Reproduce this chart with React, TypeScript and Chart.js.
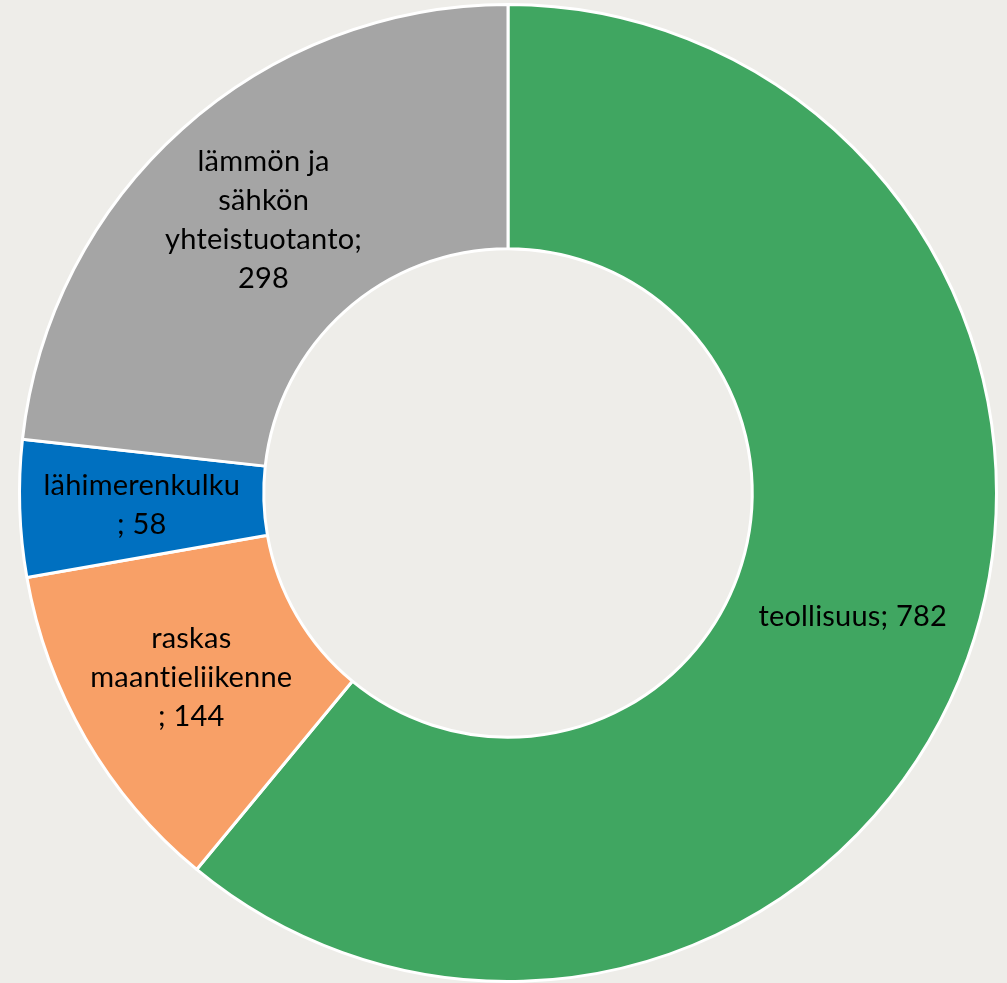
import React, { useEffect, useRef } from "react";
import { Chart, registerables } from "chart.js";

Chart.register(...registerables);

const categories = [
  "teollisuus",
  "raskas maantieliikenne",
  "lähimerenkulku",
  "lämmön ja sähkön yhteistuotanto",
];
const values = [782, 144, 58, 298];
const labelLines = [
  ["teollisuus; 782"],
  ["raskas", "maantieliikenne", "; 144"],
  ["lähimerenkulku", "; 58"],
  ["lämmön ja", "sähkön", "yhteistuotanto;", "298"],
];
const colors = ["#40A661", "#F8A067", "#0070C0", "#A5A5A5"];

const labelPlugin = {
  id: "sliceLabels",
  afterDatasetsDraw(chart: any) {
    const ctx = chart.ctx;
    const meta = chart.getDatasetMeta(0);
    ctx.save();
    ctx.fillStyle = "#000000";
    ctx.font = "29px Lato";
    (ctx as any).letterSpacing = "0.2px";
    ctx.textAlign = "center";
    ctx.textBaseline = "middle";
    const lh = 39;
    meta.data.forEach((arc: any, i: number) => {
      const p = arc.tooltipPosition();
      const lines = labelLines[i];
      const y0 = p.y - ((lines.length - 1) * lh) / 2;
      lines.forEach((l, j) => ctx.fillText(l, p.x, y0 + j * lh));
    });
    ctx.restore();
  },
};

export default function App() {
  const ref = useRef<HTMLCanvasElement>(null);
  useEffect(() => {
    document.body.style.margin = "0";
    const chart = new Chart(ref.current!, {
      type: "doughnut",
      data: {
        labels: categories,
        datasets: [
          {
            data: values,
            backgroundColor: colors,
            borderColor: "#FFFFFF",
            borderWidth: 3,
          },
        ],
      },
      options: {
        animation: false,
        responsive: false,
        cutout: "50%",
        layout: { padding: { left: 16, right: 7, top: 3, bottom: 7 } },
        plugins: {
          legend: { display: false },
          tooltip: { enabled: false },
        },
      },
      plugins: [labelPlugin],
    });
    return () => chart.destroy();
  }, []);
  return (
    <div
      style={{
        position: "fixed",
        left: 0,
        top: 0,
        width: 1007,
        height: 983,
        overflow: "hidden",
        background: "#EEEDE9",
      }}
    >
      <canvas ref={ref} width={1007} height={990} />
    </div>
  );
}
